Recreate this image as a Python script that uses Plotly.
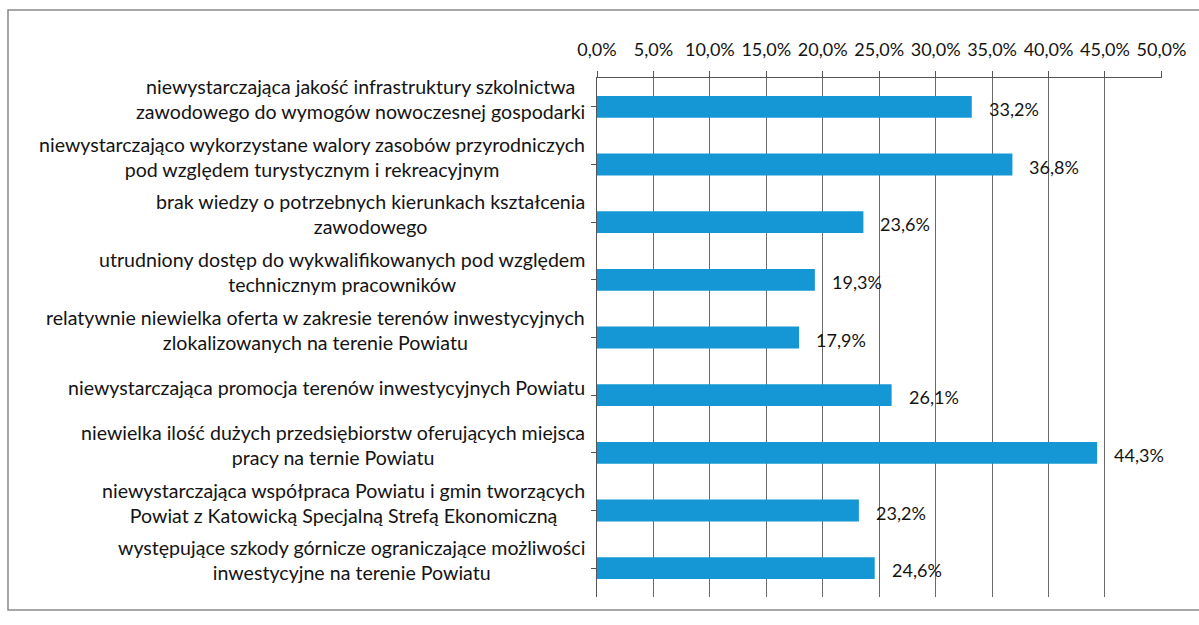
import plotly.graph_objects as go

# Problem statements and share of responses (%)
categories = [
    "niewystarczająca jakość infrastruktury szkolnictwa<br>zawodowego do wymogów nowoczesnej gospodarki",
    "niewystarczająco wykorzystane walory zasobów przyrodniczych<br>pod względem turystycznym i rekreacyjnym",
    "brak wiedzy o potrzebnych kierunkach kształcenia<br>zawodowego",
    "utrudniony dostęp do wykwalifikowanych pod względem<br>technicznym pracowników",
    "relatywnie niewielka oferta w zakresie terenów inwestycyjnych<br>zlokalizowanych na terenie Powiatu",
    "niewystarczająca promocja terenów inwestycyjnych Powiatu",
    "niewielka ilość dużych przedsiębiorstw oferujących miejsca<br>pracy na ternie Powiatu",
    "niewystarczająca współpraca Powiatu i gmin tworzących<br>Powiat z Katowicką Specjalną Strefą Ekonomiczną",
    "występujące szkody górnicze ograniczające możliwości<br>inwestycyjne na terenie Powiatu",
]
values = [33.2, 36.8, 23.6, 19.3, 17.9, 26.1, 44.3, 23.2, 24.6]
tick_values = [0, 5, 10, 15, 20, 25, 30, 35, 40, 45, 50]
tick_labels = ["0,0%", "5,0%", "10,0%", "15,0%", "20,0%", "25,0%",
               "30,0%", "35,0%", "40,0%", "45,0%", "50,0%"]


def pct(v):
    return f"{v:.1f}".replace(".", ",") + "%"


FONT = "Lato"
TEXT = "#141414"
ids = list(range(len(categories)))

fig = go.Figure(
    go.Bar(
        x=values,
        y=ids,
        orientation="h",
        marker=dict(color="#1597d6", line=dict(width=0)),
        width=0.38,
        hoverinfo="skip",
    )
)

annotations = []
# value labels to the right of each bar
for i, v in zip(ids, values):
    annotations.append(dict(
        x=v, y=i, xref="x", yref="y", text=pct(v), showarrow=False,
        xanchor="left", xshift=15, yshift=-2,
        font=dict(family=FONT, size=18, color=TEXT),
    ))
# category captions, centred lines, right edge next to the axis
for i, c in zip(ids, categories):
    annotations.append(dict(
        x=0, y=i, xref="paper", yref="y", text=c, showarrow=False,
        xanchor="right", xshift=-10, yshift=8, align="center",
        font=dict(family=FONT, size=19.6, color=TEXT),
    ))

fig.update_layout(
    width=1199, height=625,
    margin=dict(l=597, r=37, t=78, b=28),
    paper_bgcolor="white", plot_bgcolor="white",
    showlegend=False,
    annotations=annotations,
    xaxis=dict(
        side="top", range=[0, 50.05],
        tickvals=tick_values, ticktext=tick_labels,
        tickfont=dict(family=FONT, size=18, color=TEXT),
        ticklabelstandoff=8,
        showgrid=True, gridcolor="#6a6a6a", gridwidth=1,
        showline=True, linecolor="#555555", linewidth=1,
        ticks="outside", ticklen=6, tickcolor="#555555",
        zeroline=False, fixedrange=True,
    ),
    yaxis=dict(
        tickvals=ids, showticklabels=False,
        range=[len(ids) - 0.5, -0.5],
        showgrid=False, zeroline=False,
        showline=True, linecolor="#555555", linewidth=1,
        ticks="outside", ticklen=5, tickcolor="#555555",
        tickson="boundaries", fixedrange=True,
    ),
    shapes=[
        # frame around the chart
        dict(type="path", xref="paper", yref="paper",
             path="M 1.07 1.131 L -1.0425 1.131 L -1.0425 -0.025 L 1.07 -0.025",
             line=dict(color="#8a8a8a", width=1.5)),
    ],
)

fig.write_html("out.html")
